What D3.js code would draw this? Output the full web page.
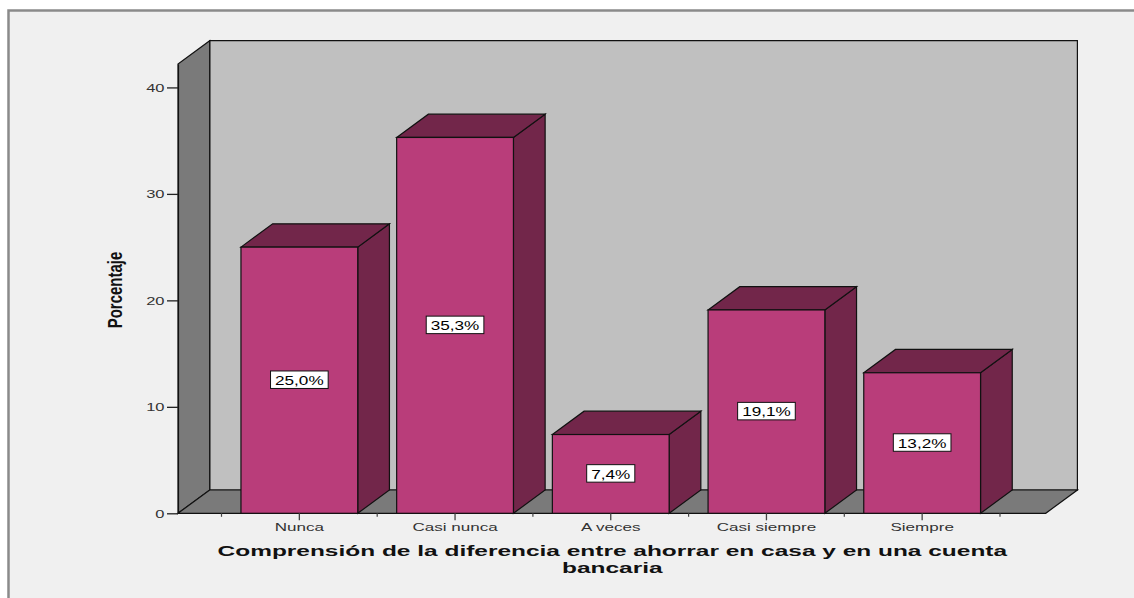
<!DOCTYPE html>
<html>
<head>
<meta charset="utf-8">
<script src="https://cdn.jsdelivr.net/npm/d3@7"></script>
<style>
  html, body { margin: 0; padding: 0; background: #ffffff; }
  svg { display: block; }
  text { font-family: "Liberation Sans", Arial, sans-serif; }
</style>
</head>
<body>
<svg id="chart" width="1134" height="598"></svg>
<script>
// Data
const categories = ["Nunca", "Casi nunca", "A veces", "Casi siempre", "Siempre"];
const percentages = [25.0, 35.3, 7.4, 19.1, 13.2];
const valueLabels = ["25,0%", "35,3%", "7,4%", "19,1%", "13,2%"];
const yTicks = [0, 10, 20, 30, 40];
const xTitleLines = ["Comprensión de la diferencia entre ahorrar en casa y en una cuenta", "bancaria"];
const yTitle = "Porcentaje";

// Layout
const W = 1134, H = 598;
const plot = { left: 178, right: 1045.7, bottom: 513.3, top: 64 };
const depth = { dx: 31.7, dy: -23.3 };
const yDomainTop = 42.2;   // height of the 3D frame in data units
const textStretch = 1.55;  // horizontal stretch of the small labels

const colors = {
  page: "#f0f0f0",
  border: "#8a8a8a",
  backWall: "#c0c0c0",
  sideWall: "#7a7a7a",
  barFront: "#b93d7a",
  barSide: "#72264a",
  stroke: "#111111",
  tickText: "#333333"
};

const svg = d3.select("#chart");

// Page background and frame lines
svg.append("rect").attr("x", 8).attr("y", 10).attr("width", W - 8).attr("height", H - 10)
  .attr("fill", colors.page);
svg.append("path")
  .attr("d", `M8.5,${H} L8.5,10.5 L${W},10.5`)
  .attr("fill", "none").attr("stroke", colors.border).attr("stroke-width", 2.5);

// Scales
const y = d3.scaleLinear().domain([0, yDomainTop]).range([plot.bottom, plot.top]);
const x = d3.scaleBand().domain(categories).range([221.5, 1000]).paddingInner(0).paddingOuter(0);
const barW = x.bandwidth() * 0.75;

const { dx, dy } = depth;
const line = d3.line();
const poly = pts => line(pts) + "Z";

// 3D frame: back wall, left wall, floor
const frame = svg.append("g");
frame.append("path")
  .attr("d", poly([[plot.left + dx, plot.top + dy], [plot.right + dx, plot.top + dy],
                   [plot.right + dx, plot.bottom + dy], [plot.left + dx, plot.bottom + dy]]))
  .attr("fill", colors.backWall).attr("stroke", colors.stroke).attr("stroke-width", 1.2);
frame.append("path")
  .attr("d", poly([[plot.left, plot.bottom], [plot.left, plot.top],
                   [plot.left + dx, plot.top + dy], [plot.left + dx, plot.bottom + dy]]))
  .attr("fill", colors.sideWall).attr("stroke", colors.stroke).attr("stroke-width", 1.2);
frame.append("path")
  .attr("d", poly([[plot.left, plot.bottom], [plot.left + dx, plot.bottom + dy],
                   [plot.right + dx, plot.bottom + dy], [plot.right, plot.bottom]]))
  .attr("fill", colors.sideWall).attr("stroke", colors.stroke).attr("stroke-width", 1.2);

// Bars
const bars = svg.append("g").selectAll("g").data(categories).join("g");
bars.each(function (c, i) {
  const g = d3.select(this);
  const x0 = x(c) + (x.bandwidth() - barW) / 2;
  const x1 = x0 + barW;
  const yv = y(percentages[i]);
  const y0 = y(0);
  // side face
  g.append("path")
    .attr("d", poly([[x1, yv], [x1 + dx, yv + dy], [x1 + dx, y0 + dy], [x1, y0]]))
    .attr("fill", colors.barSide).attr("stroke", colors.stroke).attr("stroke-width", 1.2);
  // top face
  g.append("path")
    .attr("d", poly([[x0, yv], [x0 + dx, yv + dy], [x1 + dx, yv + dy], [x1, yv]]))
    .attr("fill", colors.barSide).attr("stroke", colors.stroke).attr("stroke-width", 1.2);
  // front face
  g.append("rect")
    .attr("x", x0).attr("y", yv).attr("width", barW).attr("height", y0 - yv)
    .attr("fill", colors.barFront).attr("stroke", colors.stroke).attr("stroke-width", 1.2);
});

// Value labels in boxes at mid-height of each bar
const labelStretch = 1.32;
bars.each(function (c, i) {
  const g = d3.select(this);
  const cx = x(c) + x.bandwidth() / 2;
  const cy = (y(percentages[i]) + y(0)) / 2;
  const box = g.append("rect");
  const t = g.append("text")
    .attr("transform", `translate(${cx},${cy}) scale(${labelStretch},1)`)
    .attr("text-anchor", "middle").attr("dy", "0.36em")
    .attr("font-size", 13).attr("fill", "#000")
    .text(valueLabels[i]);
  const w = t.node().getComputedTextLength() * labelStretch + 9;
  const h = 17.5;
  box.attr("x", cx - w / 2).attr("y", cy - h / 2 - 0.5).attr("width", w).attr("height", h)
    .attr("fill", "#ffffff").attr("stroke", "#111").attr("stroke-width", 1);
});

// Y axis
const yAxis = svg.append("g").attr("transform", `translate(${plot.left},0)`)
  .call(d3.axisLeft(y).tickValues(yTicks).tickSize(11).tickSizeOuter(0).tickFormat(d3.format("d")));
yAxis.select(".domain").attr("stroke", colors.stroke).attr("stroke-width", 1.2);
yAxis.selectAll(".tick line").attr("stroke", "#222").attr("stroke-width", 1.3);
yAxis.selectAll(".tick text")
  .attr("x", 0).attr("dy", "0.36em")
  .attr("transform", `translate(-13.5,0) scale(1.5,1)`)
  .attr("font-size", 11).attr("fill", colors.tickText).attr("font-family", "Liberation Sans, Arial, sans-serif");

// X axis: major ticks at categories, minor ticks at band edges
const xAxis = svg.append("g").attr("transform", `translate(0,${plot.bottom})`);
const edges = categories.map(c => x(c)).concat([x(categories[categories.length - 1]) + x.bandwidth()]);
xAxis.selectAll(".minor").data(edges).join("line")
  .attr("x1", d => d).attr("x2", d => d).attr("y1", 0).attr("y2", 3.5)
  .attr("stroke", "#444").attr("stroke-width", 1.2);
xAxis.selectAll(".major").data(categories).join("line")
  .attr("x1", d => x(d) + x.bandwidth() / 2).attr("x2", d => x(d) + x.bandwidth() / 2)
  .attr("y1", 0).attr("y2", 7)
  .attr("stroke", "#444").attr("stroke-width", 1.3);
xAxis.selectAll(".label").data(categories).join("text")
  .attr("transform", d => `translate(${x(d) + x.bandwidth() / 2},${531 - plot.bottom}) scale(${textStretch},1)`)
  .attr("text-anchor", "middle").attr("font-size", 11).attr("fill", colors.tickText)
  .text(d => d);

// X axis title (two lines, stretched to the same width)
const titleCx = 612.3;
const t1 = svg.append("text")
  .attr("text-anchor", "middle").attr("font-size", 15).attr("font-weight", "bold").attr("fill", "#111")
  .text(xTitleLines[0]);
const titleStretch = 790 / t1.node().getComputedTextLength();
t1.attr("transform", `translate(${titleCx},555.5) scale(${titleStretch},1)`);
svg.append("text")
  .attr("text-anchor", "middle").attr("font-size", 15).attr("font-weight", "bold").attr("fill", "#111")
  .attr("transform", `translate(${titleCx},572.5) scale(${titleStretch},1)`)
  .text(xTitleLines[1]);

// Y axis title
svg.append("text")
  .attr("transform", `translate(122,290) scale(1.4,1) rotate(-90)`)
  .attr("text-anchor", "middle").attr("font-size", 15).attr("font-weight", "bold").attr("fill", "#111")
  .text(yTitle);
</script>
</body>
</html>
